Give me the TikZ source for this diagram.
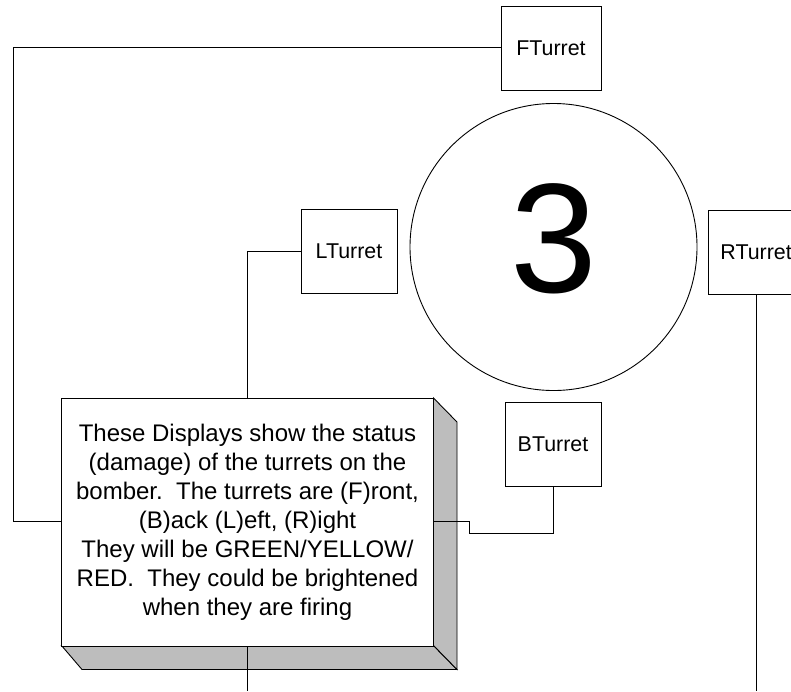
\documentclass[tikz,border=0pt]{standalone}
\usepackage{fontspec}
\setmainfont{Liberation Sans}
\begin{document}
\begin{tikzpicture}[x=1pt,y=-1pt,
  turret/.style={draw=black,fill=white,line width=0.9pt,inner sep=0pt,font=\fontsize{21.4}{25}\selectfont},
  wire/.style={draw=black,line width=0.9pt},
  depth/.style={draw=black,fill=black!26,line width=0.9pt,line join=miter}]
\useasboundingbox (0,0) rectangle (791,691);
\clip (0,0) rectangle (791,691);
\node[draw=black,line width=0.9pt,circle,minimum size=287pt,inner sep=0pt] (disc) at (553.5,247) {};
\node[inner sep=0pt,font=\fontsize{156}{156}\selectfont] (digit) at (554,238.5) {3};
\node[turret,minimum width=100pt,minimum height=84pt] (ft) at (551,48) {FTurret};
\node[turret,minimum width=96pt,minimum height=84pt] (lt) at (349,251) {LTurret};
\node[turret,minimum width=96pt,minimum height=84pt,anchor=west,text width=96pt,align=left] (rt) at (708,252) {\hspace{12pt}RTurret};
\node[turret,minimum width=96pt,minimum height=84pt] (bt) at (553,444) {BTurret};
% raised note: faces behind the connectors, front on top
\path[depth] (61.5,645.5) -- (82,669.5) -- (457,669.5) -- (433.5,645.5) -- cycle;
\path[depth] (433.5,398) -- (457,422) -- (457,669.5) -- (433.5,645.5) -- cycle;
\coordinate (fbend) at (13,47);
\coordinate (fin) at (13,521);
\coordinate (lbend) at (247.5,251);
\coordinate (bup) at (469,521);
\coordinate (bdown) at (469,533);
\coordinate (bcorner) at (553,533);
\coordinate (lowend) at (247.5,691);
\coordinate (rend) at (756,691);
\coordinate (noteL) at (61.5,521);
\coordinate (noteR) at (433.5,521);
\coordinate (noteT) at (247.5,398);
\coordinate (noteB) at (247.5,645.5);
\draw[wire] (ft.west |- fbend) -- (fbend) -- (fin) -- (noteL);
\draw[wire] (lt.west) -- (lbend) -- (noteT);
\draw[wire] (noteR) -- (bup) -- (bdown) -- (bcorner) -- (bt.south -| bcorner);
\draw[wire] (noteB) -- (lowend);
\draw[wire] (rt.south -| rend) -- (rend);
\node[draw=black,fill=white,line width=0.9pt,inner sep=0pt,minimum width=372pt,minimum height=247.5pt,align=center,font=\fontsize{24}{29}\selectfont] (note) at (247.5,522.2)
{These Displays show the status\\(damage) of the turrets on the\\bomber.\ \ The turrets are (F)ront,\\(B)ack (L)eft, (R)ight\\They will be GREEN/YELLOW/\\RED.\ \ They could be brightened\\when they are firing};
\end{tikzpicture}
\end{document}
